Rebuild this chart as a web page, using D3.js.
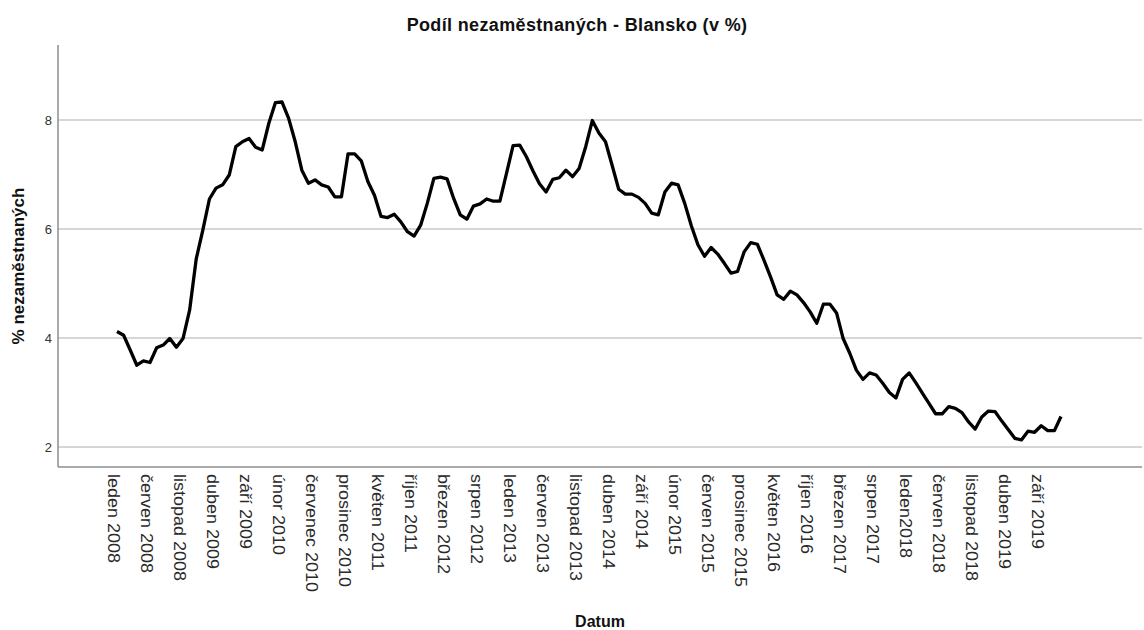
<!DOCTYPE html>
<html>
<head>
<meta charset="utf-8">
<script src="https://cdn.jsdelivr.net/npm/d3@7"></script>
<style>
  html, body { margin: 0; padding: 0; background: #fff; }
  svg { display: block; }
  text { font-family: "Liberation Sans", Arial, sans-serif; }
</style>
</head>
<body>
<svg id="chart" width="1144" height="630"></svg>
<script>
// ---- data (monthly, leden 2008 .. prosinec 2019) ----
const startYear = 2008;
const monthCount = 144;
const values = [
  4.12, 4.05, 3.78, 3.50, 3.58, 3.55, 3.82, 3.87, 3.99, 3.83, 3.99, 4.51,
  5.45, 5.98, 6.55, 6.75, 6.81, 6.99, 7.51, 7.60, 7.66, 7.50, 7.45, 7.94,
  8.32, 8.33, 8.03, 7.60, 7.08, 6.84, 6.90, 6.81, 6.77, 6.59, 6.59, 7.38,
  7.38, 7.25, 6.87, 6.62, 6.23, 6.21, 6.27, 6.13, 5.95, 5.87, 6.07, 6.47,
  6.93, 6.95, 6.92, 6.56, 6.26, 6.18, 6.42, 6.46, 6.55, 6.51, 6.51, 7.02,
  7.53, 7.54, 7.33, 7.07, 6.83, 6.68, 6.91, 6.94, 7.08, 6.96, 7.11, 7.51,
  7.99, 7.76, 7.60, 7.17, 6.73, 6.64, 6.64, 6.58, 6.47, 6.29, 6.26, 6.68,
  6.84, 6.81, 6.47, 6.06, 5.71, 5.50, 5.66, 5.54, 5.37, 5.19, 5.22, 5.58,
  5.75, 5.72, 5.43, 5.12, 4.79, 4.71, 4.86, 4.79, 4.65, 4.48, 4.27, 4.62,
  4.62, 4.46, 3.99, 3.72, 3.41, 3.24, 3.36, 3.32, 3.17, 3.00, 2.90, 3.24,
  3.36, 3.18, 2.99, 2.80, 2.61, 2.61, 2.74, 2.71, 2.63, 2.46, 2.33, 2.55,
  2.66, 2.65, 2.48, 2.32, 2.16, 2.13, 2.29, 2.27, 2.39, 2.30, 2.30, 2.56
];
const categories = d3.range(monthCount).map(i =>
  `${startYear + Math.floor(i / 12)}-${String(i % 12 + 1).padStart(2, "0")}`);

const tickLabels = [
  "leden 2008", "červen 2008", "listopad 2008", "duben 2009", "září 2009",
  "únor 2010", "červenec 2010", "prosinec 2010", "květen 2011", "říjen 2011",
  "březen 2012", "srpen 2012", "leden 2013", "červen 2013", "listopad 2013",
  "duben 2014", "září 2014", "únor 2015", "červen 2015", "prosinec 2015",
  "květen 2016", "říjen 2016", "březen 2017", "srpen 2017", "leden2018",
  "červen 2018", "listopad 2018", "duben 2019", "září 2019"
];
const tickStep = 5;
const yTicks = [2, 4, 6, 8];
const yDomain = [1.633, 9.376];

const titleText = "Podíl nezaměstnaných - Blansko (v %)";
const xTitle = "Datum";
const yTitle = "% nezaměstnaných";

// ---- layout ----
const svg = d3.select("#chart");
const plotLeft = 58, plotRight = 1142, plotTop = 45, plotBottom = 467;

const x = d3.scalePoint().domain(categories).range([117, 1061]);
const y = d3.scaleLinear().domain(yDomain).range([plotBottom, plotTop]);

svg.append("rect").attr("width", 1144).attr("height", 630).attr("fill", "#fff");

// gridlines
svg.append("g").selectAll("line").data(yTicks).join("line")
  .attr("x1", plotLeft).attr("x2", plotRight)
  .attr("y1", d => y(d)).attr("y2", d => y(d))
  .attr("stroke", "#c8c8c8").attr("stroke-width", 1.5);

// y axis
const yAxis = d3.axisLeft(y).tickValues(yTicks).tickSize(0).tickPadding(6).tickFormat(d3.format("d"));
const gy = svg.append("g").attr("transform", `translate(${plotLeft},0)`).call(yAxis);
gy.select(".domain").remove();
gy.selectAll("text").attr("font-size", 13).attr("fill", "#333")
  .attr("font-family", '"Liberation Sans", Arial, sans-serif');
svg.append("line").attr("x1", plotLeft).attr("x2", plotLeft)
  .attr("y1", plotTop).attr("y2", plotBottom)
  .attr("stroke", "#8c8c8c").attr("stroke-width", 1.5);

// x axis (labels every 5th month)
const tickCats = categories.filter((c, i) => i % tickStep === 0);
const labelOf = new Map(tickCats.map((c, i) => [c, tickLabels[i]]));
const xAxis = d3.axisBottom(x).tickValues(tickCats).tickSize(0).tickFormat(c => labelOf.get(c));
const gx = svg.append("g").attr("transform", `translate(0,${plotBottom})`).call(xAxis);
gx.select(".domain").remove();
gx.selectAll(".tick text")
  .attr("font-size", 18).attr("fill", "#2a2a2a")
  .attr("font-family", '"Liberation Sans", Arial, sans-serif')
  .attr("text-anchor", "start")
  .attr("dy", null).attr("y", 0)
  .attr("transform", "translate(-10,7) rotate(90) scale(1,0.92)")
  .attr("dominant-baseline", "auto");
svg.append("line").attr("x1", plotLeft).attr("x2", plotRight)
  .attr("y1", plotBottom).attr("y2", plotBottom)
  .attr("stroke", "#8c8c8c").attr("stroke-width", 1.5);

// line
const line = d3.line().x((d, i) => x(categories[i])).y(d => y(d));
svg.append("path").datum(values)
  .attr("d", line).attr("fill", "none")
  .attr("stroke", "#000").attr("stroke-width", 3.3)
  .attr("stroke-linejoin", "round");

// titles
svg.append("text").attr("x", 577).attr("y", 31).attr("text-anchor", "middle")
  .attr("font-size", 18).attr("font-weight", "bold").attr("letter-spacing", 0.35)
  .attr("fill", "#111").text(titleText);
svg.append("text").attr("x", 600).attr("y", 627).attr("text-anchor", "middle")
  .attr("font-size", 16).attr("font-weight", "bold").attr("fill", "#111").text(xTitle);
svg.append("text").attr("transform", "translate(24,266) rotate(-90)").attr("text-anchor", "middle")
  .attr("font-size", 17).attr("font-weight", "bold").attr("fill", "#111").text(yTitle);
</script>
</body>
</html>
